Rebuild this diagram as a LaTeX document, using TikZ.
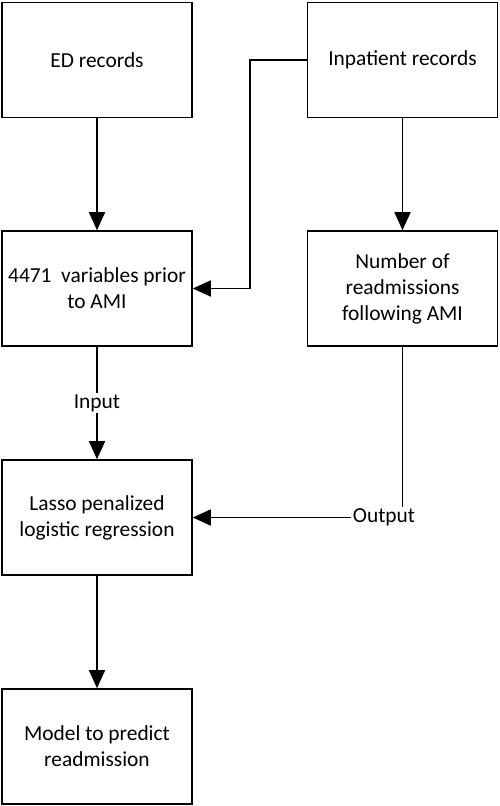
\documentclass[tikz,border=0pt]{standalone}
\usepackage{fontspec}
\setmainfont{Carlito}
\usepackage{tikz}
\usetikzlibrary{arrows.meta}

\begin{document}
\begin{tikzpicture}[x=1pt,y=-1pt,line width=1.6pt,>={Triangle[length=18pt,width=16pt]},
  box/.style={draw,fill=white,minimum width=190pt,minimum height=115pt,align=center,
    font=\fontsize{21.4}{26}\selectfont},
  lbl/.style={fill=white,inner sep=1pt,font=\fontsize{21.4}{26}\selectfont}]
\useasboundingbox (0,0) rectangle (500,806);

\node[box] (ed) at (97,60) {ED records};
\node[box] (inp) at (402.5,60) {Inpatient records};
\node[box] (vars) at (97,288.5) {4471~ variables prior\\to AMI};
\node[box] (num) at (402.5,288.5) {Number of\\readmissions\\following AMI};
\node[box] (lasso) at (97,517.5) {Lasso penalized\\logistic regression};
\node[box] (model) at (97,746.5) {Model to predict\\readmission};

\draw[->] (ed) -- (vars);
\draw[->] (inp.west) -- ++(-57,0) |- (vars.east);
\draw[->] (inp) -- (num);
\draw[->] (vars) -- node[lbl] (in) {Input} (lasso);

\node[lbl] (out) at (384,517.5) {Output};
\draw (num.south) -- (num.south |- out.north);
\draw[->] (out.west) -- (lasso.east);

\draw[->] (lasso) -- (model);

\end{tikzpicture}
\end{document}
